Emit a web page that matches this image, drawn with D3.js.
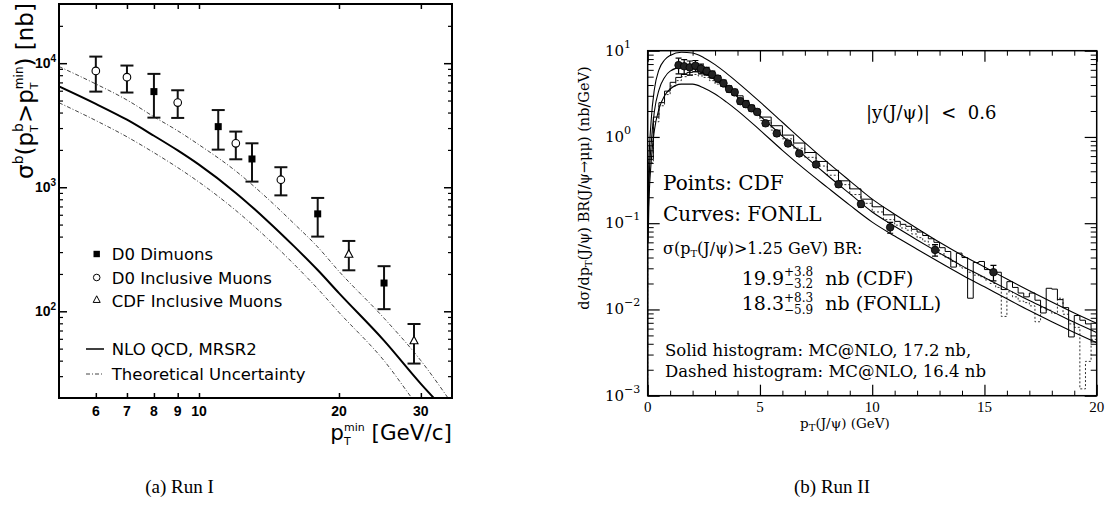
<!DOCTYPE html>
<html><head><meta charset="utf-8">
<script src="https://cdn.jsdelivr.net/npm/d3@7/dist/d3.min.js"></script>
<style>html,body{margin:0;padding:0;background:#fff;} svg{display:block} text{white-space:pre}</style>
</head><body>
<svg id="chart" width="1115" height="505"></svg>
<script>
// ================= Panel (a) Run I =================
const runIPt      = [5, 6, 7, 8, 9, 10, 12, 14, 16, 18, 20, 25, 30, 35];
const nloCentral  = [6500, 4700, 3500, 2600, 1980, 1520, 900, 540, 335, 215, 140, 58, 26, 14];
const nloUpper    = [9400, 6800, 5050, 3700, 2850, 2200, 1350, 820, 510, 330, 210, 88, 40, 18];
const nloLower    = [4800, 3450, 2550, 1900, 1440, 1100, 650, 390, 240, 152, 98, 40, 16, 8];

const d0DimuPt  = [8, 11, 13, 18, 25];
const d0DimuVal = [5900, 3080, 1690, 610, 169];
const d0DimuLo  = [3640, 2010, 1110, 400, 104];
const d0DimuHi  = [8200, 4190, 2260, 820, 231];

const d0IncPt  = [6, 7, 9, 12, 15];
const d0IncVal = [8670, 7710, 4810, 2260, 1150];
const d0IncLo  = [5900, 5800, 3620, 1680, 860];
const d0IncHi  = [11300, 9570, 6050, 2810, 1450];

const cdfIncPt  = [21, 29];
const cdfIncVal = [287, 57.6];
const cdfIncLo  = [214, 37.9];
const cdfIncHi  = [369, 79];

const xTicksA = [6, 7, 8, 9, 10, 20, 30];
const yMajorA = [100, 1000, 10000];
const yMinorA = [30,40,50,60,70,80,90,200,300,400,500,600,700,800,900,2000,3000,4000,5000,6000,7000,8000,9000,20000];
const yExpA   = ["2", "3", "4"];
const legendA = ["D0 Dimuons", "D0 Inclusive Muons", "CDF Inclusive Muons", "NLO QCD, MRSR2", "Theoretical Uncertainty"];

// ================= Panel (b) Run II =================
const fonllPt  = [0.02,0.05,0.15,0.3,0.5,0.75,1,1.5,2,2.5,3,3.5,4,5,6,7,8,9,10,11,12,13,14,15,16,17,18,19,20];
const fonllMid = [0.1,0.25,0.8,2.0,3.5,4.9,5.8,6.4,6.2,5.5,4.6,3.7,2.9,1.75,1.02,0.6,0.36,0.22,0.135,0.092,0.064,0.045,0.032,0.0235,0.0172,0.0127,0.0095,0.0071,0.0054];
const fonllUp  = [0.18,0.45,1.5,3.6,6.0,7.8,8.8,9.6,9.4,8.3,6.9,5.5,4.3,2.55,1.48,0.86,0.51,0.31,0.19,0.127,0.087,0.06,0.0425,0.031,0.0225,0.0165,0.0122,0.0091,0.0069];
const fonllLo  = [0.06,0.15,0.5,1.2,2.1,3.0,3.6,4.1,4.1,3.7,3.15,2.55,2.02,1.2,0.7,0.42,0.26,0.162,0.103,0.071,0.05,0.0352,0.0251,0.0183,0.0133,0.0097,0.0072,0.0054,0.0041];

const cdfPt  = [1.375,1.625,1.875,2.125,2.375,2.625,2.875,3.125,3.375,3.625,3.875,4.125,4.375,4.625,4.875,5.25,5.75,6.25,6.75,7.5,8.5,9.5,10.8,12.8,15.4];
const cdfVal = [6.8,6.6,6.4,6.7,6.2,5.8,5.3,4.75,4.2,3.6,3.3,2.6,2.4,2.15,1.95,1.44,1.10,0.84,0.645,0.48,0.283,0.167,0.0895,0.049,0.027];
const cdfErr = [1.4,1.3,1.2,1.0,0.8,0.6,0.5,0.4,0.35,0.3,0.27,0.2,0.18,0.16,0.14,0.1,0.08,0.06,0.045,0.035,0.022,0.014,0.013,0.0075,0.0055];

const histEdges = [0,0.25,0.5,0.75,1,1.25,1.5,1.75,2,2.25,2.5,2.75,3,3.25,3.5,3.75,4,4.25,4.5,4.75,
  5,5.5,6,6.5,7,7.5,8,8.5,9,9.5,10,10.5,
  11,11.25,11.5,11.75,12,12.25,12.5,12.75,13,13.25,13.5,13.75,14,14.25,14.5,14.75,15,15.25,15.5,15.75,
  16,16.25,16.5,16.75,17,17.25,17.5,17.75,18,18.25,18.5,18.75,19,19.25,19.5,19.75,20];
const mcnloSolid = [0.55,1.7,2.5,3.4,4.3,4.9,5.4,5.6,5.7,5.5,5.3,4.9,4.5,4.1,3.7,3.3,3.0,2.65,2.35,2.1,
  1.7,1.35,1.05,0.85,0.66,0.52,0.41,0.31,0.25,0.19,0.155,0.125,
  0.105,0.097,0.092,0.085,0.079,0.072,0.066,0.060,0.052,0.047,0.031,0.045,0.040,0.0135,0.035,0.036,0.029,0.028,0.027,0.017,
  0.021,0.018,0.0155,0.014,0.0155,0.0128,0.0091,0.0176,0.0172,0.013,0.0105,0.0048,0.0085,0.0075,0.0068,0.0042];
const mcnloDashed = [0.5,1.5,2.3,3.1,3.9,4.5,5.0,5.2,5.3,5.1,4.9,4.5,4.1,3.8,3.4,3.0,2.7,2.4,2.15,1.9,
  1.55,1.2,0.95,0.74,0.58,0.46,0.36,0.28,0.215,0.17,0.135,0.11,
  0.095,0.088,0.083,0.075,0.068,0.062,0.056,0.050,0.044,0.040,0.036,0.032,0.030,0.027,0.025,0.024,0.022,0.020,0.018,0.0083,
  0.016,0.014,0.0125,0.012,0.011,0.0072,0.0105,0.0098,0.009,0.0135,0.0088,0.0068,0.0062,0.0012,0.0025,0.0045];

const xMajorB = [0, 5, 10, 15, 20];
const xMinorB = [1,2,3,4,6,7,8,9,11,12,13,14,16,17,18,19];
const yMajorB = [0.001, 0.01, 0.1, 1, 10];
const yExpB   = ["\u22123", "\u22122", "\u22121", "0", "1"];
const yMinorB = [0.002,0.003,0.004,0.005,0.006,0.007,0.008,0.009,0.02,0.03,0.04,0.05,0.06,0.07,0.08,0.09,
  0.2,0.3,0.4,0.5,0.6,0.7,0.8,0.9,2,3,4,5,6,7,8,9];

// ================= helpers =================
const svg = d3.select("#chart");
const SANS = "DejaVu Sans", SERIF = "DejaVu Serif";

function rich(parent, pieces, opts) {
  const g = parent.append("g");
  let cx = 0, lastX = 0, lastW = 0;
  pieces.forEach(p => {
    const x = p.stack ? lastX : cx;
    const t = g.append("text").attr("x", x).attr("y", p.dy || 0)
      .style("font-family", p.font || opts.font)
      .style("font-size", (p.size || opts.size) + "px")
      .style("font-weight", p.weight || opts.weight || "normal")
      .attr("fill", "#000").text(p.t);
    const w = t.node().getComputedTextLength();
    if (p.stack) { lastW = Math.max(lastW, w); cx = lastX + lastW; }
    else { lastX = x; lastW = w; cx = x + w; }
  });
  return { g, width: cx };
}
function place(r, x, y, anchor, rot) {
  const off = anchor === "middle" ? -r.width / 2 : anchor === "end" ? -r.width : 0;
  r.g.attr("transform", `translate(${x},${y})` + (rot ? ` rotate(${rot})` : "") + ` translate(${off},0)`);
}
function tickSet(g, axisFn, scale, vals, size, tx, ty, sw) {
  g.append("g").attr("transform", `translate(${tx},${ty})`)
    .call(axisFn(scale).tickValues(vals).tickSize(size).tickFormat(""))
    .call(s => s.select(".domain").remove())
    .call(s => s.selectAll("line").attr("stroke", "#000").attr("stroke-width", sw));
}

// ================= Panel (a) =================
const A = { x0: 59, x1: 452, y0: 4, y1: 398 };
const xA = d3.scaleLog().domain([5, 35]).range([A.x0, A.x1]);
const yA = d3.scaleLog().domain([20, 30000]).range([A.y1, A.y0]);
const gA = svg.append("g");
gA.append("clipPath").attr("id", "clipA").append("rect")
  .attr("x", A.x0).attr("y", A.y0).attr("width", A.x1 - A.x0).attr("height", A.y1 - A.y0);

const lineA = d3.line().x(d => xA(d[0])).y(d => yA(d[1])).curve(d3.curveMonotoneX);
const curvesA = gA.append("g").attr("clip-path", "url(#clipA)");
curvesA.append("path").datum(d3.zip(runIPt, nloUpper)).attr("d", lineA)
  .attr("fill", "none").attr("stroke", "#444").attr("stroke-width", 1).attr("stroke-dasharray", "4,2,1,2");
curvesA.append("path").datum(d3.zip(runIPt, nloLower)).attr("d", lineA)
  .attr("fill", "none").attr("stroke", "#444").attr("stroke-width", 1).attr("stroke-dasharray", "4,2,1,2");
curvesA.append("path").datum(d3.zip(runIPt, nloCentral)).attr("d", lineA)
  .attr("fill", "none").attr("stroke", "#000").attr("stroke-width", 2);

function errA(pts, lo, hi) {
  const g = gA.append("g").attr("stroke", "#111").attr("stroke-width", 2);
  pts.forEach((p, i) => {
    const x = xA(p);
    g.append("line").attr("x1", x).attr("x2", x).attr("y1", yA(lo[i])).attr("y2", yA(hi[i]));
    g.append("line").attr("x1", x - 6.5).attr("x2", x + 6.5).attr("y1", yA(lo[i])).attr("y2", yA(lo[i]));
    g.append("line").attr("x1", x - 6.5).attr("x2", x + 6.5).attr("y1", yA(hi[i])).attr("y2", yA(hi[i]));
  });
}
errA(d0DimuPt, d0DimuLo, d0DimuHi);
errA(d0IncPt, d0IncLo, d0IncHi);
errA(cdfIncPt, cdfIncLo, cdfIncHi);

const triPath = (cx, cy, s) => `M${cx},${cy - s * 0.6}L${cx + s / 2},${cy + s * 0.35}L${cx - s / 2},${cy + s * 0.35}Z`;
gA.selectAll(".sq").data(d3.zip(d0DimuPt, d0DimuVal)).join("rect")
  .attr("x", d => xA(d[0]) - 3.5).attr("y", d => yA(d[1]) - 3.5).attr("width", 7).attr("height", 7).attr("fill", "#000");
gA.selectAll(".ci").data(d3.zip(d0IncPt, d0IncVal)).join("circle")
  .attr("cx", d => xA(d[0])).attr("cy", d => yA(d[1])).attr("r", 3.8)
  .attr("fill", "#fff").attr("stroke", "#000").attr("stroke-width", 1.1);
gA.selectAll(".tr").data(d3.zip(cdfIncPt, cdfIncVal)).join("path")
  .attr("d", d => triPath(xA(d[0]), yA(d[1]), 8))
  .attr("fill", "#fff").attr("stroke", "#000").attr("stroke-width", 1.1);

// frame + ticks
gA.append("rect").attr("x", A.x0).attr("y", A.y0).attr("width", A.x1 - A.x0).attr("height", A.y1 - A.y0)
  .attr("fill", "none").attr("stroke", "#000").attr("stroke-width", 2);
tickSet(gA, d3.axisBottom, xA, xTicksA, -5, 0, A.y1, 1.5);
tickSet(gA, d3.axisTop, xA, xTicksA, -5, 0, A.y0, 1.5);
tickSet(gA, d3.axisLeft, yA, yMajorA, -8, A.x0, 0, 1.5);
tickSet(gA, d3.axisLeft, yA, yMinorA, -4, A.x0, 0, 1.2);
tickSet(gA, d3.axisRight, yA, yMajorA, -8, A.x1, 0, 1.5);
tickSet(gA, d3.axisRight, yA, yMinorA, -4, A.x1, 0, 1.2);

// tick labels
gA.selectAll(".xl").data(xTicksA).join("text")
  .attr("x", d => xA(d)).attr("y", 416).attr("text-anchor", "middle")
  .style("font-family", "Liberation Sans").style("font-size", "14px").style("font-weight", "bold")
  .text(d => d);
yMajorA.forEach((v, i) => {
  const r = rich(gA, [{ t: "10" }, { t: yExpA[i], size: 10, dy: -6 }],
    { font: "Liberation Sans", size: 14, weight: "bold" });
  place(r, 35, yA(v) + 5, "start");
});

// axis titles
place(rich(gA, [
  { t: "\u03c3" }, { t: "b", size: 14, dy: -10 }, { t: "(p" }, { t: "T", size: 11, dy: 5 },
  { t: "b", size: 14, dy: -10, stack: true }, { t: ">p" }, { t: "T", size: 11, dy: 5 },
  { t: "min", size: 12, dy: -10, stack: true }, { t: ") [nb]" }
], { font: SANS, size: 23 }), 33, 91, "middle", -90);
place(rich(gA, [
  { t: "p" }, { t: "T", size: 11, dy: 5 }, { t: "min", size: 11, dy: -9, stack: true }, { t: " [GeV/c]" }
], { font: SANS, size: 21.5 }), 452, 440, "end");

// legend
const legY = [254, 277.5, 301, 349, 374];
const lg = gA.append("g");
lg.append("rect").attr("x", 93.5).attr("y", legY[0] - 3.2).attr("width", 6.4).attr("height", 6.4).attr("fill", "#000");
lg.append("circle").attr("cx", 96.7).attr("cy", legY[1]).attr("r", 3.3).attr("fill", "none").attr("stroke", "#000");
lg.append("path").attr("d", triPath(96.7, legY[2] - 1, 7)).attr("fill", "none").attr("stroke", "#000");
lg.append("line").attr("x1", 86).attr("x2", 104).attr("y1", legY[3]).attr("y2", legY[3]).attr("stroke", "#000").attr("stroke-width", 1.5);
lg.append("line").attr("x1", 86).attr("x2", 104).attr("y1", legY[4]).attr("y2", legY[4]).attr("stroke", "#444").attr("stroke-dasharray", "4,2,1,2");
legendA.forEach((s, i) => {
  lg.append("text").attr("x", 111.7).attr("y", legY[i] + 6).style("font-family", SANS).style("font-size", "16.5px").text(s);
});

// ================= Panel (b) =================
const B = { x0: 647.7, x1: 1096.7, y0: 50.7, y1: 395.7 };
const xB = d3.scaleLinear().domain([0, 20]).range([B.x0, B.x1]);
const yB = d3.scaleLog().domain([0.001, 10]).range([B.y1, B.y0]);
const gB = svg.append("g");
gB.append("clipPath").attr("id", "clipB").append("rect")
  .attr("x", B.x0).attr("y", B.y0).attr("width", B.x1 - B.x0).attr("height", B.y1 - B.y0);
const inB = gB.append("g").attr("clip-path", "url(#clipB)");

function histPath(edges, vals) {
  let d = `M${xB(edges[0])},${yB(0.001)}`;
  vals.forEach((v, i) => { d += `V${yB(v)}H${xB(edges[i + 1])}`; });
  return d;
}
inB.append("path").attr("d", histPath(histEdges, mcnloDashed)).attr("fill", "none")
  .attr("stroke", "#333").attr("stroke-width", 1).attr("stroke-dasharray", "2,2");
inB.append("path").attr("d", histPath(histEdges, mcnloSolid)).attr("fill", "none")
  .attr("stroke", "#000").attr("stroke-width", 1);

const lineB = d3.line().x(d => xB(d[0])).y(d => yB(d[1])).curve(d3.curveMonotoneX);
[fonllUp, fonllMid, fonllLo].forEach(arr => {
  inB.append("path").datum(d3.zip(fonllPt, arr)).attr("d", lineB)
    .attr("fill", "none").attr("stroke", "#000").attr("stroke-width", 1.1);
});

const eg = inB.append("g").attr("stroke", "#000").attr("stroke-width", 1.2);
cdfPt.forEach((p, i) => {
  const x = xB(p), lo = yB(cdfVal[i] - cdfErr[i]), hi = yB(cdfVal[i] + cdfErr[i]);
  eg.append("line").attr("x1", x).attr("x2", x).attr("y1", lo).attr("y2", hi);
  eg.append("line").attr("x1", x - 3).attr("x2", x + 3).attr("y1", lo).attr("y2", lo);
  eg.append("line").attr("x1", x - 3).attr("x2", x + 3).attr("y1", hi).attr("y2", hi);
});
inB.selectAll(".pt").data(d3.zip(cdfPt, cdfVal)).join("circle")
  .attr("cx", d => xB(d[0])).attr("cy", d => yB(d[1])).attr("r", 3.8)
  .attr("fill", "#222").attr("stroke", "#000").attr("stroke-width", 0.8);

gB.append("rect").attr("x", B.x0).attr("y", B.y0).attr("width", B.x1 - B.x0).attr("height", B.y1 - B.y0)
  .attr("fill", "none").attr("stroke", "#000").attr("stroke-width", 1.5);
tickSet(gB, d3.axisBottom, xB, xMajorB, -11, 0, B.y1, 1.2);
tickSet(gB, d3.axisBottom, xB, xMinorB, -5, 0, B.y1, 1);
tickSet(gB, d3.axisTop, xB, xMajorB, -11, 0, B.y0, 1.2);
tickSet(gB, d3.axisTop, xB, xMinorB, -5, 0, B.y0, 1);
tickSet(gB, d3.axisLeft, yB, yMajorB, -12, B.x0, 0, 1.2);
tickSet(gB, d3.axisLeft, yB, yMinorB, -6, B.x0, 0, 1);
tickSet(gB, d3.axisRight, yB, yMajorB, -12, B.x1, 0, 1.2);
tickSet(gB, d3.axisRight, yB, yMinorB, -6, B.x1, 0, 1);

gB.selectAll(".xl").data(xMajorB).join("text")
  .attr("x", d => xB(d)).attr("y", 412).attr("text-anchor", "middle")
  .style("font-family", "Liberation Serif").style("font-size", "15px").text(d => d);
yMajorB.forEach((v, i) => {
  const r = rich(gB, [{ t: "10" }, { t: yExpB[i], size: 11, dy: -8 }], { font: SERIF, size: 15 });
  place(r, 605, yB(v) + 5, "start");
});

place(rich(gB, [
  { t: "d\u03c3/dp" }, { t: "T", size: 10, dy: 3 },
  { t: "(J/\u03c8) BR(J/\u03c8\u2192\u03bc\u03bc) (nb/GeV)" }
], { font: SERIF, size: 14.5 }), 589, 188, "middle", -90);
place(rich(gB, [
  { t: "p" }, { t: "T", size: 10, dy: 3 }, { t: "(J/\u03c8) (GeV)" }
], { font: SERIF, size: 13.5 }), 845, 428, "middle");

// annotations
place(rich(gB, [{ t: "|y(J/\u03c8)|  <  0.6" }], { font: SERIF, size: 18 }), 866, 119, "start");
place(rich(gB, [{ t: "Points: CDF" }], { font: SERIF, size: 20 }), 663, 190, "start");
place(rich(gB, [{ t: "Curves: FONLL" }], { font: SERIF, size: 20 }), 663, 221, "start");
place(rich(gB, [
  { t: "\u03c3(p" }, { t: "T", size: 10, dy: 3 }, { t: "(J/\u03c8)>1.25 GeV) BR:" }
], { font: SERIF, size: 16 }), 663, 254, "start");
place(rich(gB, [
  { t: "19.9" }, { t: "+3.8", size: 12, dy: -9 }, { t: "\u22123.2", size: 12, dy: 3, stack: true },
  { t: "  nb (CDF)" }
], { font: SERIF, size: 19 }), 741.7, 285, "start");
place(rich(gB, [
  { t: "18.3" }, { t: "+8.3", size: 12, dy: -8 }, { t: "\u22125.9", size: 12, dy: 4, stack: true },
  { t: "  nb (FONLL)" }
], { font: SERIF, size: 19 }), 741.7, 310, "start");
place(rich(gB, [{ t: "Solid histogram: MC@NLO, 17.2 nb," }], { font: SERIF, size: 16.5 }), 665, 356, "start");
place(rich(gB, [{ t: "Dashed histogram: MC@NLO, 16.4 nb" }], { font: SERIF, size: 16.5 }), 665, 377, "start");

// captions
svg.append("text").attr("x", 179.5).attr("y", 493).attr("text-anchor", "middle")
  .style("font-family", "Liberation Serif").style("font-size", "19px").text("(a) Run I");
svg.append("text").attr("x", 832).attr("y", 493).attr("text-anchor", "middle")
  .style("font-family", "Liberation Serif").style("font-size", "19px").text("(b) Run II");
</script>
</body></html>
